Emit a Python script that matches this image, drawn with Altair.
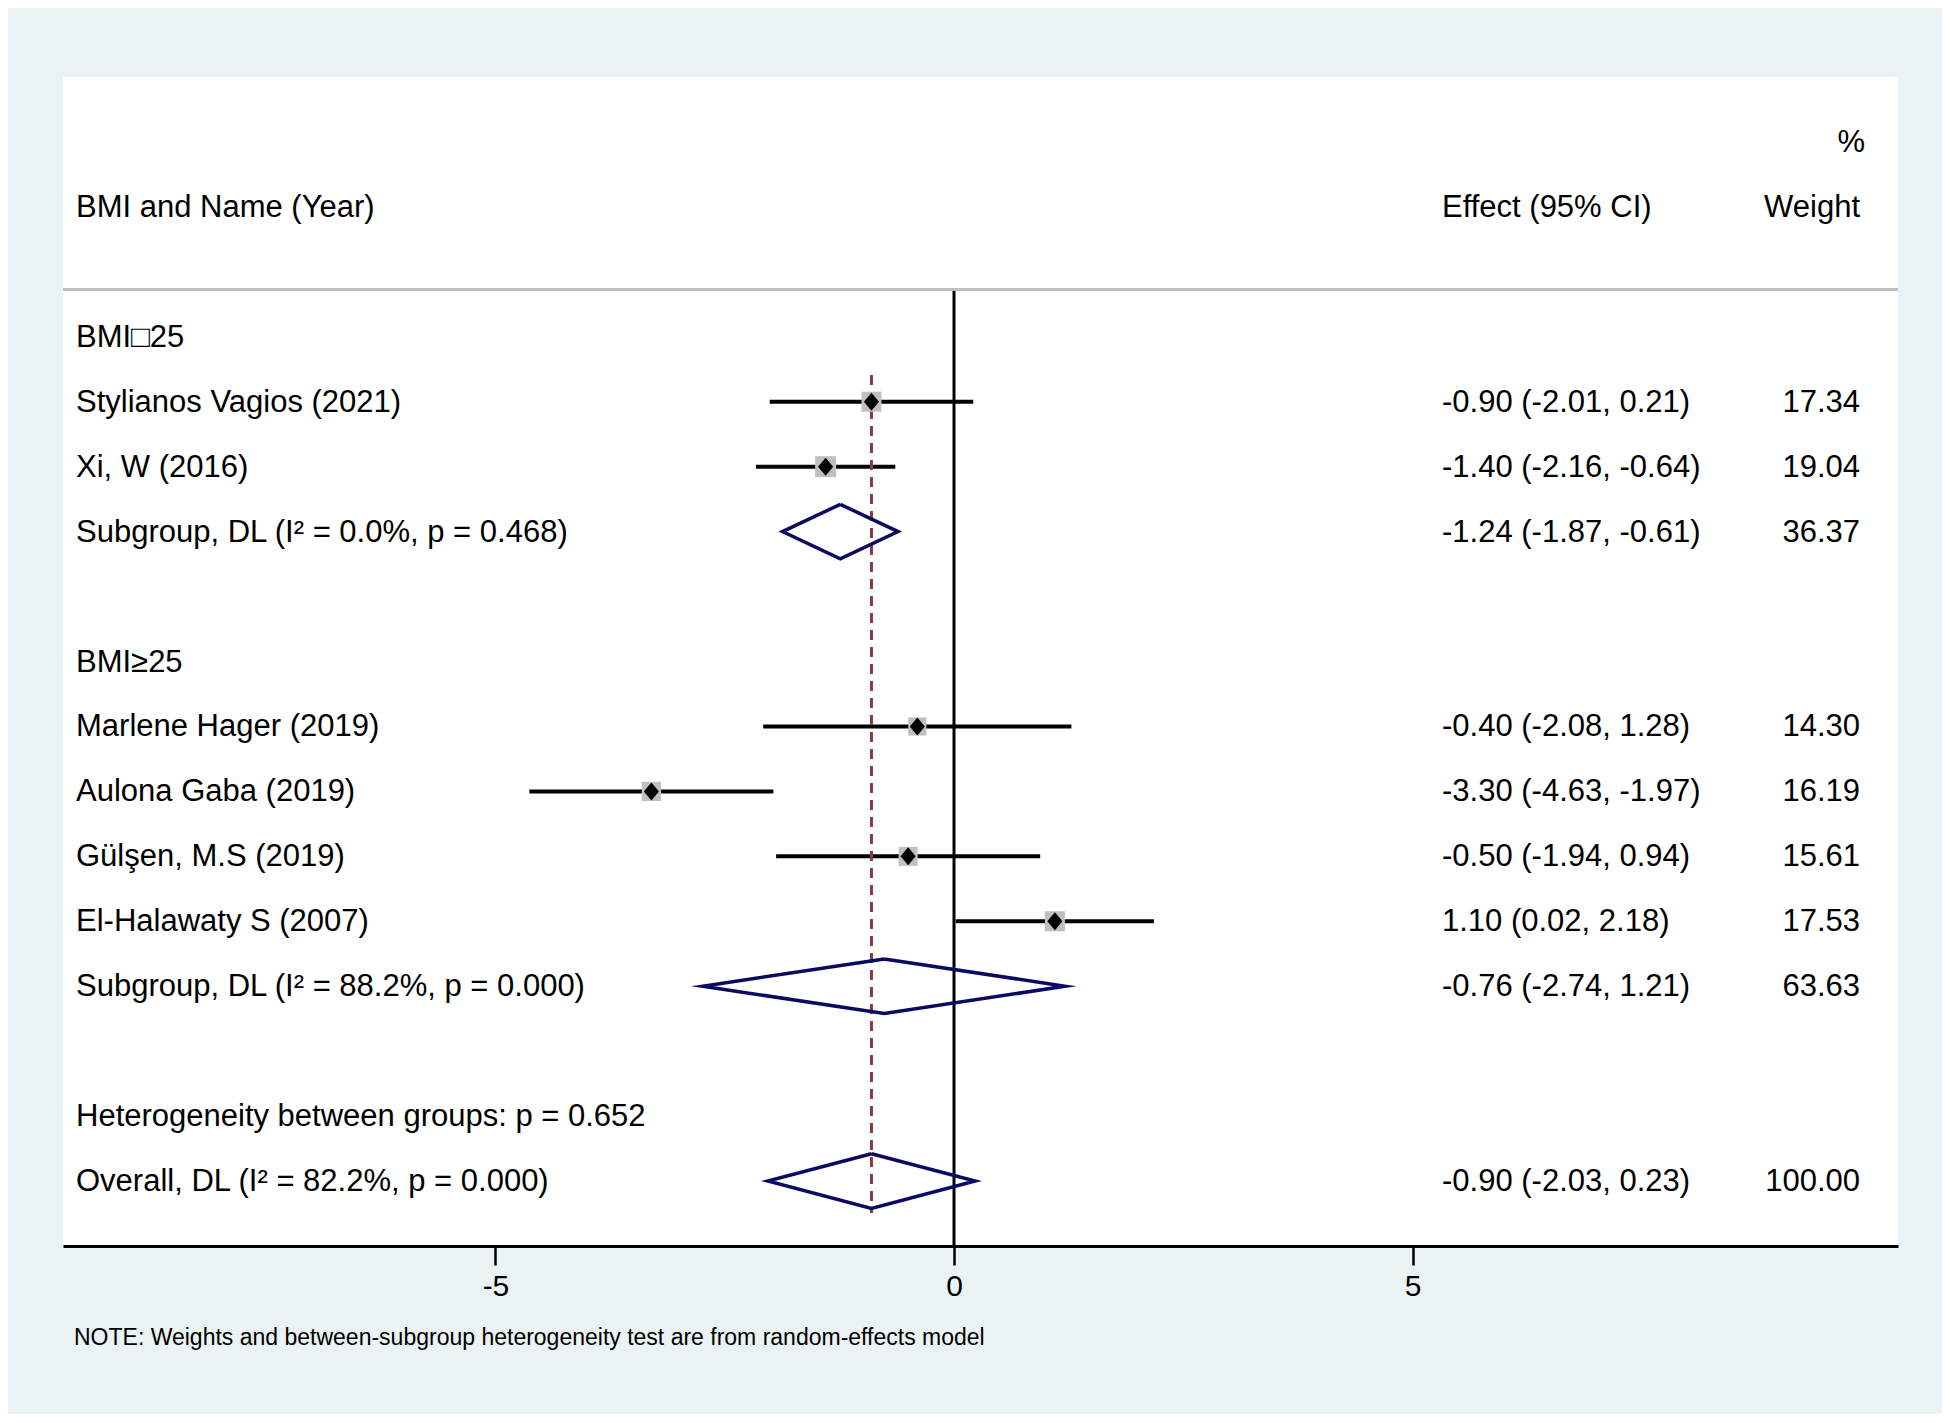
import altair as alt
import pandas as pd

# ---------------- data ----------------
group_labels = ["BMI\u25a125", "BMI\u226525", "Heterogeneity between groups: p = 0.652"]
group_rows = [1, 6, 13]

study_names = ["Stylianos Vagios (2021)", "Xi, W (2016)", "Marlene Hager (2019)",
               "Aulona Gaba (2019)", "Gülşen, M.S (2019)", "El-Halawaty S (2007)"]
study_rows = [2, 3, 7, 8, 9, 10]
study_est = [-0.90, -1.40, -0.40, -3.30, -0.50, 1.10]
study_lo = [-2.01, -2.16, -2.08, -4.63, -1.94, 0.02]
study_hi = [0.21, -0.64, 1.28, -1.97, 0.94, 2.18]
study_wt = [17.34, 19.04, 14.30, 16.19, 15.61, 17.53]

pool_labels = ["Subgroup, DL (I\u00b2 = 0.0%, p = 0.468)",
               "Subgroup, DL (I\u00b2 = 88.2%, p = 0.000)",
               "Overall, DL (I\u00b2 = 82.2%, p = 0.000)"]
pool_rows = [4, 11, 14]
pool_est = [-1.24, -0.76, -0.90]
pool_lo = [-1.87, -2.74, -2.03]
pool_hi = [-0.61, 1.21, 0.23]
pool_wt = [36.37, 63.63, 100.00]

header_left = "BMI and Name (Year)"
header_effect = "Effect (95% CI)"
header_weight = "Weight"
header_pct = "%"
x_ticks = [-5, 0, 5]
note = "NOTE: Weights and between-subgroup heterogeneity test are from random-effects model"

# ---------------- tables ----------------
studies = pd.DataFrame({"name": study_names, "row": study_rows, "est": study_est,
                        "lo": study_lo, "hi": study_hi, "wt": study_wt})
pools = pd.DataFrame({"name": pool_labels, "row": pool_rows, "est": pool_est,
                      "lo": pool_lo, "hi": pool_hi, "wt": pool_wt})

labels = pd.DataFrame({
    "row": group_rows + study_rows + pool_rows,
    "label": group_labels + study_names + pool_labels,
})

stats = pd.concat([studies, pools], ignore_index=True)
stats["effect"] = [f"{e:.2f} ({l:.2f}, {h:.2f})" for e, l, h in zip(stats.est, stats.lo, stats.hi)]
stats["weight"] = [f"{w:.2f}" for w in stats.wt]

HALF = 0.42  # diamond half-height in row units
verts = []
for i, r in pools.iterrows():
    pts = [(r.est, r.row - HALF), (r.hi, r.row), (r.est, r.row + HALF), (r.lo, r.row), (r.est, r.row - HALF)]
    for k, (xv, yv) in enumerate(pts):
        verts.append({"id": i, "k": k, "x": xv, "y": yv})
verts = pd.DataFrame(verts)

headers = pd.DataFrame({"row": [-1, -1, -1, -2],
                        "t": [header_left, header_effect, header_weight, header_pct]})

# ---------------- layout ----------------
W, H = 1835, 1169
FONT = "Liberation Sans"
FS = 31
NAVY = "#0a0a62"

xscale = alt.Scale(domain=[-9.716, 10.294], nice=False, zero=False)
yscale = alt.Scale(domain=[-3, 15], reverse=True, nice=False, zero=False)
xaxis = alt.Axis(values=x_ticks, title=None, grid=False, domainColor="black", domainWidth=3,
                 tickColor="black", tickWidth=2.5, tickSize=19, labelFont=FONT, labelFontSize=30,
                 labelColor="black", labelPadding=6, labelFlush=False,
                 labelExpr="replace(datum.label, '\u2212', '-')")


def X(field):
    return alt.X(field, type="quantitative", scale=xscale, axis=xaxis)


def Y(field="row"):
    return alt.Y(field, type="quantitative", scale=yscale, axis=None)


header_line = alt.Chart(pd.DataFrame({"a": [0]})).mark_rule(color="#bebebe", strokeWidth=3).encode(
    x=alt.value(0), x2=alt.value(W), y=alt.value(212.5))

zero_line = alt.Chart(pd.DataFrame({"v": [0]})).mark_rule(color="black", strokeWidth=3).encode(
    x=X("v"), y=alt.value(214), y2=alt.value(H))

ci = alt.Chart(studies).mark_rule(color="black", strokeWidth=4).encode(
    x=X("lo"), x2="hi:Q", y=Y())

overall_line = alt.Chart(pools.iloc[[-1]]).mark_rule(
    color="#8a3a40", strokeWidth=3, strokeDash=[10, 7]).encode(
    x=X("est"), y=alt.value(298), y2=alt.value(1136))

squares = alt.Chart(studies).mark_point(shape="square", filled=True, color="#c0c0c0", opacity=1).encode(
    x=X("est"), y=Y(),
    size=alt.Size("wt:Q", scale=alt.Scale(domain=[0, 20], range=[0, 462]), legend=None))

dots = alt.Chart(studies).mark_point(shape="M-0.84,0L0,-1L0.84,0L0,1Z", filled=True,
                                     color="black", opacity=1, size=324).encode(x=X("est"), y=Y())

diamonds = alt.Chart(verts).mark_line(color=NAVY, strokeWidth=3.5, strokeJoin="miter",
                                      strokeMiterLimit=10).encode(
    x=X("x"), y=Y("y"), detail="id:N", order="k:Q")

left_text = alt.Chart(labels).mark_text(align="left", baseline="middle", font=FONT, fontSize=FS,
                                        color="black", dy=1).encode(
    x=alt.value(13), y=Y(), text="label:N")

effect_text = alt.Chart(stats).mark_text(align="left", baseline="middle", font=FONT, fontSize=FS,
                                         color="black", dy=1).encode(
    x=alt.value(1379), y=Y(), text="effect:N")

weight_text = alt.Chart(stats).mark_text(align="right", baseline="middle", font=FONT, fontSize=FS,
                                         color="black", dy=1).encode(
    x=alt.value(1797), y=Y(), text="weight:N")

h0 = alt.Chart(headers.iloc[[0]]).mark_text(align="left", baseline="middle", font=FONT, fontSize=FS,
                                            color="black", dy=1).encode(x=alt.value(13), y=Y(), text="t:N")
h1 = alt.Chart(headers.iloc[[1]]).mark_text(align="left", baseline="middle", font=FONT, fontSize=FS,
                                            color="black", dy=1).encode(x=alt.value(1379), y=Y(), text="t:N")
h2 = alt.Chart(headers.iloc[[2]]).mark_text(align="right", baseline="middle", font=FONT, fontSize=FS,
                                            color="black", dy=1).encode(x=alt.value(1797), y=Y(), text="t:N")
h3 = alt.Chart(headers.iloc[[3]]).mark_text(align="right", baseline="middle", font=FONT, fontSize=FS,
                                            color="black", dy=1).encode(x=alt.value(1802), y=Y(), text="t:N")

note_text = alt.Chart(pd.DataFrame({"t": [note]})).mark_text(
    align="left", baseline="middle", font=FONT, fontSize=23, color="black").encode(
    x=alt.value(11), y=alt.value(1261), text="t:N")

chart = alt.layer(
    header_line, zero_line, ci, overall_line, squares, dots, diamonds,
    left_text, effect_text, weight_text, h0, h1, h2, h3, note_text
).properties(
    width=W, height=H,
    autosize=alt.AutoSizeParams(type="none"),
    padding={"left": 55, "top": 69, "right": 44, "bottom": 168},
    background="#EAF2F3",
).configure_view(fill="white", stroke=None)

chart.save("out.html", embed_options={"renderer": "svg", "actions": False})
